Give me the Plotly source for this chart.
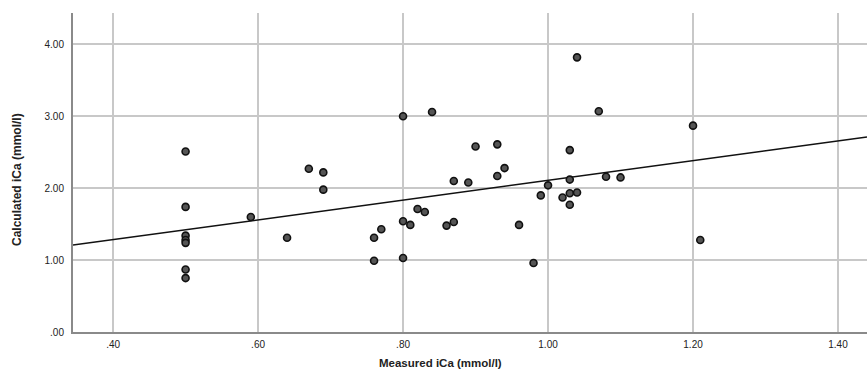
import numpy as np
import plotly.graph_objects as go

# Measured iCa (mmol/l)
measured = [0.50, 0.50, 0.50, 0.50, 0.50, 0.50, 0.50,
            0.59, 0.64, 0.67, 0.69, 0.69, 0.76, 0.76, 0.77,
            0.80, 0.84, 0.80, 0.81, 0.82, 0.83, 0.80, 0.86, 0.87,
            0.87, 0.89, 0.90, 0.93, 0.93, 0.94, 0.96, 0.98, 0.99,
            1.00, 1.02, 1.03, 1.03, 1.03, 1.04, 1.03, 1.04, 1.07,
            1.08, 1.10, 1.20, 1.21]
# Calculated iCa (mmol/l)
calculated = [2.51, 1.74, 1.34, 1.28, 1.24, 0.87, 0.75,
              1.60, 1.31, 2.27, 2.22, 1.98, 1.31, 0.99, 1.43,
              3.00, 3.06, 1.54, 1.49, 1.71, 1.67, 1.03, 1.48, 1.53,
              2.10, 2.08, 2.58, 2.61, 2.17, 2.28, 1.49, 0.96, 1.90,
              2.04, 1.87, 2.53, 2.12, 1.93, 1.94, 1.77, 3.82, 3.07,
              2.16, 2.15, 2.87, 1.28]

x_ticks = [0.40, 0.60, 0.80, 1.00, 1.20, 1.40]
x_tick_labels = [".40", ".60", ".80", "1.00", "1.20", "1.40"]
y_ticks = [0.0, 1.0, 2.0, 3.0, 4.0]
y_tick_labels = [".00", "1.00", "2.00", "3.00", "4.00"]

x_range = [0.3447, 1.44]
y_range = [0.0, 4.437]

# linear fit (least squares) across the full axis range
slope, intercept = np.polyfit(measured, calculated, 1)
fit_x = np.array(x_range)
fit_y = intercept + slope * fit_x

font_fam = "Liberation Sans, Arial, sans-serif"

fig = go.Figure()
fig.add_trace(go.Scatter(
    x=fit_x, y=fit_y, mode="lines",
    line=dict(color="#111111", width=1.5),
    hoverinfo="skip", showlegend=False))
fig.add_trace(go.Scatter(
    x=measured, y=calculated, mode="markers",
    marker=dict(size=7, color="#555555", line=dict(color="#111111", width=1.6)),
    showlegend=False))

fig.update_layout(
    width=867, height=369,
    margin=dict(l=73, r=0, t=13, b=37),
    paper_bgcolor="white", plot_bgcolor="white",
    font=dict(family=font_fam, color="#222222"),
)
fig.update_xaxes(
    range=x_range, tickvals=x_ticks, ticktext=x_tick_labels,
    showgrid=True, gridcolor="#c8c8c8", gridwidth=1.5,
    showline=True, linecolor="#8a8a8a", linewidth=2,
    zeroline=False, ticks="", tickfont=dict(size=10, color="#222222"),
    ticklabelstandoff=2,
)
fig.update_yaxes(
    range=y_range, tickvals=y_ticks, ticktext=y_tick_labels,
    showgrid=True, gridcolor="#c8c8c8", gridwidth=1.5,
    showline=True, linecolor="#8a8a8a", linewidth=2,
    zeroline=False, ticks="", tickfont=dict(size=10, color="#222222"),
    ticklabelstandoff=5,
)
fig.add_annotation(
    text="<b>Measured iCa (mmol/l)</b>", xref="paper", yref="paper",
    x=(440 - 73) / (867 - 73), y=-(363 - 332) / (332 - 13),
    xanchor="center", yanchor="middle", showarrow=False,
    font=dict(size=11.5, color="#222222", family=font_fam))
fig.add_annotation(
    text="<b>Calculated iCa (mmol/l)</b>", xref="paper", yref="paper",
    x=-(73 - 17) / (867 - 73), y=(332 - 180) / (332 - 13),
    xanchor="center", yanchor="middle", showarrow=False, textangle=-90,
    font=dict(size=12, color="#222222", family=font_fam))

fig.write_html("out.html", config={"displayModeBar": False},
               post_script="document.body.style.margin='0';document.body.style.overflow='hidden';")
